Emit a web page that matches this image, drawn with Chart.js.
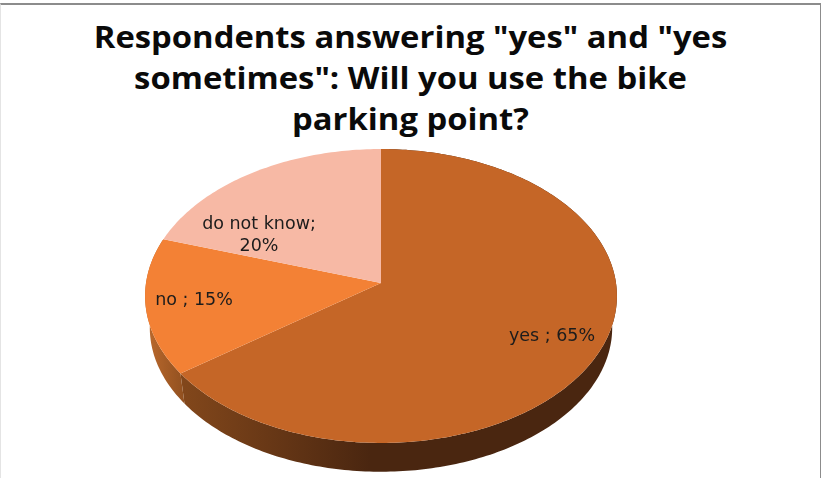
<!DOCTYPE html>
<html lang="en">
<head>
  <meta charset="UTF-8">
  <title>Bike parking point</title>
  <script src="https://cdn.jsdelivr.net/npm/chart.js"></script>
  <style>
    * { box-sizing: border-box; }
    html, body { margin: 0; padding: 0; background: #fff; overflow: hidden; }
    .frame {
      position: absolute;
      left: 0; top: 3px;
      width: 821px; height: 475px;
      border-top: 2px solid #8c8c8c;
      border-left: 1px solid #e4e4e4;
      border-right: 1px solid #8c8c8c;
    }
    h1 {
      position: absolute;
      left: 0; top: 16px;
      width: 821px;
      margin: 0;
      text-align: center;
      font: bold 30px/41px "Open Sans", sans-serif;
      color: #0a0a0a;
      transform: scaleX(1.093);
    }
    canvas { position: absolute; left: 0; top: 0; }
  </style>
</head>
<body>
  <div class="frame"></div>
  <h1>Respondents answering "yes" and "yes<br>sometimes": Will you use the bike<br>parking point?</h1>
  <canvas id="grafico" width="821" height="478"></canvas>

  <script>
    const categories = ['yes ', 'no ', 'do not know'];
    const shares = [65, 15, 20];
    const sliceColors = ['#c56627', '#f38135', '#f7b9a5'];

    // side wall shading, left to right, for the slices that show one
    const wallShades = [
      [[183, '#82471b'], [370, '#4a2610']],
      [[148, '#b9682c'], [186, '#8f4f1f']],
      null
    ];
    const labelSpots = [[552, 336], [194, 300], [259, 235]];
    const labelBreaks = [false, false, true];

    // how the round pie is laid over: tilt strength, top face height, wall drop
    const tilt = 0.0884;
    const faceHeight = 145.8;
    const wallDrop = 32;
    const wallShrink = 0.98;

    function tiltedPoint(arc, angle, shrink, drop) {
      const u = Math.cos(angle), v = Math.sin(angle);
      const w = 1 - tilt * v;
      return {
        x: arc.x + arc.outerRadius * shrink * u / w,
        y: arc.y + drop + faceHeight * shrink * v / w
      };
    }

    function traceArc(ctx, arc, from, to, shrink, drop) {
      const steps = Math.max(8, Math.ceil(Math.abs(to - from) * 60));
      for (let i = 0; i <= steps; i++) {
        const p = tiltedPoint(arc, from + (to - from) * i / steps, shrink, drop);
        ctx.lineTo(p.x, p.y);
      }
    }

    // slices keep the angles Chart.js works out, only the outline is squashed
    Chart.ArcElement.prototype.draw = function (ctx) {
      const arc = this.getProps(['x', 'y', 'startAngle', 'endAngle', 'outerRadius']);
      ctx.save();
      ctx.fillStyle = this.options.backgroundColor;
      ctx.beginPath();
      ctx.moveTo(arc.x, arc.y);
      traceArc(ctx, arc, arc.startAngle, arc.endAngle, 1, 0);
      ctx.closePath();
      ctx.fill();
      ctx.restore();
    };

    const pieWall = {
      id: 'pieWall',
      beforeDatasetsDraw(chart) {
        const ctx = chart.ctx;
        chart.getDatasetMeta(0).data.forEach(function (el, i) {
          if (!wallShades[i]) return;
          const arc = el.getProps(['x', 'y', 'startAngle', 'endAngle', 'outerRadius']);
          const stops = wallShades[i];
          const grad = ctx.createLinearGradient(stops[0][0], 0, stops[1][0], 0);
          grad.addColorStop(0, stops[0][1]);
          grad.addColorStop(1, stops[1][1]);
          ctx.save();
          ctx.fillStyle = grad;
          ctx.beginPath();
          traceArc(ctx, arc, arc.startAngle, arc.endAngle, 1, 0);
          traceArc(ctx, arc, arc.endAngle, arc.startAngle, wallShrink, wallDrop);
          ctx.closePath();
          ctx.fill();
          ctx.restore();
        });
      }
    };

    const sliceLabels = {
      id: 'sliceLabels',
      afterDatasetsDraw(chart) {
        const ctx = chart.ctx;
        ctx.save();
        ctx.font = '17.5px "DejaVu Sans", sans-serif';
        ctx.fillStyle = '#1c1c1c';
        ctx.textAlign = 'center';
        ctx.textBaseline = 'middle';
        categories.forEach(function (name, i) {
          const pos = labelSpots[i];
          if (labelBreaks[i]) {
            ctx.fillText(name + ';', pos[0], pos[1] - 11);
            ctx.fillText(shares[i] + '%', pos[0], pos[1] + 11);
          } else {
            ctx.fillText(name + '; ' + shares[i] + '%', pos[0], pos[1]);
          }
        });
        ctx.restore();
      }
    };

    new Chart(document.getElementById('grafico'), {
      type: 'pie',
      data: {
        labels: categories,
        datasets: [{
          data: shares,
          backgroundColor: sliceColors,
          borderWidth: 0,
          radius: 235
        }]
      },
      options: {
        responsive: false,
        animation: false,
        // padding puts the pie centre at 381, 283
        layout: { padding: { left: 0, right: 59, top: 88, bottom: 0 } },
        plugins: { legend: { display: false }, title: { display: false }, tooltip: { enabled: false } }
      },
      plugins: [pieWall, sliceLabels]
    });
  </script>
</body>
</html>
